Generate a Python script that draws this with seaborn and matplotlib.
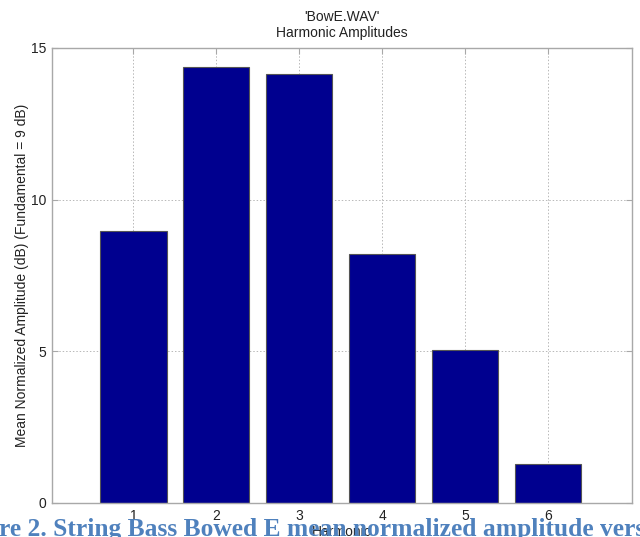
import matplotlib
matplotlib.use("Agg")
import matplotlib.pyplot as plt
import seaborn as sns
import pandas as pd

harmonics = ["1", "2", "3", "4", "5", "6"]
amplitudes = [8.97, 14.37, 14.14, 8.21, 5.04, 1.29]
y_ticks = [0, 5, 10, 15]
title_lines = ["'BowE.WAV'", "Harmonic Amplitudes"]
x_label = "Harmonic"
y_label = "Mean Normalized Amplitude (dB) (Fundamental = 9 dB)"
caption = "re 2. String Bass Bowed E mean normalized amplitude versus harmonic"

sns.set_theme(style="white")
plt.rcParams["font.family"] = ["Liberation Sans", "DejaVu Sans"]

df = pd.DataFrame({"Harmonic": harmonics, "Amp": amplitudes})

fig = plt.figure(figsize=(6.4, 5.37), dpi=100)
ax = fig.add_axes([52 / 640, 1 - 503 / 537, 580 / 640, 455 / 537])

sns.barplot(data=df, x="Harmonic", y="Amp", color="#00008f", saturation=1,
            width=0.8, edgecolor="#555555", linewidth=0.8, ax=ax, zorder=2)

ax.set_xlim(-0.98, 6.01)
ax.set_ylim(0, 15)
ax.set_yticks(y_ticks)
ax.set_yticklabels([str(t) for t in y_ticks])

ax.grid(True, axis="both", color="#b8b8b8", linestyle=(0, (1.5, 2)), linewidth=0.7, zorder=0)
ax.set_axisbelow(True)

for s in ax.spines.values():
    s.set_color("#a8a8a8")
    s.set_linewidth(1.0)
    s.set_visible(True)

ax.tick_params(axis="both", direction="in", length=4, width=0.8, color="#a8a8a8",
               labelsize=10, labelcolor="#222222", top=True, right=True,
               bottom=True, left=True, pad=4)

ax.set_xlabel(x_label, fontsize=10, color="#222222", labelpad=2)
ax.set_ylabel(y_label, fontsize=10, color="#222222", labelpad=1.5)
ax.set_title("\n".join(title_lines), fontsize=10, color="#222222", pad=8, linespacing=1.15)

fig.text(-0.002, 1.0 / 537, caption, ha="left", va="baseline", fontsize=18.4,
         fontweight="bold", color="#4f81bd",
         family=["Liberation Serif", "DejaVu Serif"], zorder=10)

fig.savefig("out.png", dpi=100)
